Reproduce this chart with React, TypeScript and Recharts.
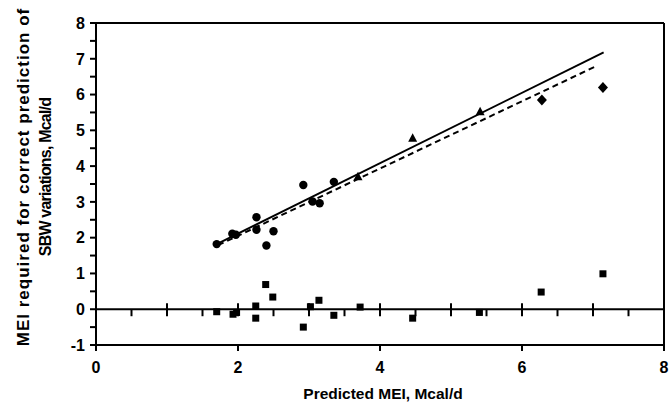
import React from 'react';
import { ScatterChart, Scatter, XAxis, YAxis, ReferenceLine, ReferenceDot, Label } from 'recharts';

const circleData = [
  { x: 1.70, y: 1.82 }, { x: 1.92, y: 2.11 }, { x: 1.97, y: 2.08 }, { x: 2.26, y: 2.57 },
  { x: 2.26, y: 2.22 }, { x: 2.40, y: 1.78 }, { x: 2.50, y: 2.18 }, { x: 2.92, y: 3.47 },
  { x: 3.05, y: 3.01 }, { x: 3.15, y: 2.96 }, { x: 3.35, y: 3.56 },
];
const triangleData = [{ x: 3.69, y: 3.70 }, { x: 4.46, y: 4.78 }, { x: 5.41, y: 5.52 }];
const diamondData = [{ x: 6.28, y: 5.85 }, { x: 7.14, y: 6.20 }];
const squareData = [
  { x: 1.70, y: -0.07 }, { x: 1.93, y: -0.14 }, { x: 1.98, y: -0.09 }, { x: 2.25, y: 0.09 },
  { x: 2.25, y: -0.25 }, { x: 2.39, y: 0.69 }, { x: 2.49, y: 0.34 }, { x: 2.92, y: -0.50 },
  { x: 3.02, y: 0.07 }, { x: 3.14, y: 0.25 }, { x: 3.35, y: -0.17 }, { x: 3.72, y: 0.06 },
  { x: 4.46, y: -0.25 }, { x: 5.40, y: -0.09 }, { x: 6.27, y: 0.48 }, { x: 7.14, y: 0.99 },
];
const solidFit = [{ x: 1.68, y: 1.80 }, { x: 7.15, y: 7.18 }];
const dashedFit = [{ x: 1.72, y: 1.79 }, { x: 7.03, y: 6.78 }];

const xTicks = [0, 2, 4, 6, 8];
const yTicks = [-1, -0.5, 0, 0.5, 1, 1.5, 2, 2.5, 3, 3.5, 4, 4.5, 5, 5.5, 6, 6.5, 7, 7.5, 8];
const zeroMajorTicks = [1, 2, 3, 4, 5, 6, 7];
const zeroMinorTicks = [0.5, 1.5, 2.5, 3.5, 4.5, 5.5, 6.5, 7.5];

const xTitle = 'Predicted MEI, Mcal/d';
const yTitle1 = 'MEI required for correct prediction of';
const yTitle2 = 'SBW variations, Mcal/d';

const FONT = '"Liberation Sans", Arial, sans-serif';

const CircleShape = (p: any) => <circle cx={p.cx} cy={p.cy} r={4.2} fill="#000" />;
const SquareShape = (p: any) => (
  <rect x={p.cx - 3.5} y={p.cy - 3.5} width={7} height={7} fill="#000" />
);
const TriangleShape = (p: any) => (
  <polygon
    points={`${p.cx},${p.cy - 5} ${p.cx + 4.5},${p.cy + 3.5} ${p.cx - 4.5},${p.cy + 3.5}`}
    fill="#000"
  />
);
const DiamondShape = (p: any) => (
  <polygon
    points={`${p.cx},${p.cy - 5.5} ${p.cx + 5},${p.cy} ${p.cx},${p.cy + 5.5} ${p.cx - 5},${p.cy}`}
    fill="#000"
  />
);

const MajorTick = (p: any) => (
  <line x1={p.cx} x2={p.cx} y1={p.cy - 6} y2={p.cy + 7} stroke="#000" strokeWidth={2} />
);
const MinorTick = (p: any) => (
  <line x1={p.cx} x2={p.cx} y1={p.cy} y2={p.cy + 7} stroke="#000" strokeWidth={2} />
);

const XTick = (p: any) => (
  <text
    x={p.x}
    y={p.y}
    dy="0.71em"
    textAnchor="middle"
    fontFamily={FONT}
    fontSize={16}
    fontWeight={700}
    fill="#000"
  >
    {p.payload.value}
  </text>
);

const YTick = (p: any) => {
  const v = p.payload.value;
  if (!Number.isInteger(v)) return <g />;
  return (
    <text
      x={p.x}
      y={p.y}
      dy="0.36em"
      textAnchor="end"
      fontFamily={FONT}
      fontSize={16}
      fontWeight={700}
      fill="#000"
    >
      {v}
    </text>
  );
};

const XTitle = (props: any) => {
  const vb = props.viewBox || { x: 96, y: 345, width: 568, height: 67 };
  return (
    <text
      x={vb.x + vb.width / 2 + 3}
      y={vb.y + vb.height - 13}
      textAnchor="middle"
      fontFamily={FONT}
      fontSize={15.5}
      fontWeight={700}
      fill="#000"
    >
      {xTitle}
    </text>
  );
};

const YTitle = (props: any) => {
  const vb = props.viewBox || { x: 0, y: 23, width: 96, height: 322 };
  const cy = vb.y + vb.height / 2 - 7;
  return (
    <g fontFamily={FONT} fontWeight={700} fill="#000">
      <text
        transform={`translate(${vb.x + 29},${cy}) rotate(-90)`}
        textAnchor="middle"
        fontSize={17}
        letterSpacing={1}
      >
        {yTitle1}
      </text>
      <text
        transform={`translate(${vb.x + 51},${cy}) rotate(-90)`}
        textAnchor="middle"
        fontSize={16}
        letterSpacing={-0.8}
      >
        {yTitle2}
      </text>
    </g>
  );
};

export default function App() {
  return (
    <div style={{ position: 'absolute', left: 0, top: 0, background: '#fff' }}>
      <ScatterChart
        width={669}
        height={412}
        margin={{ top: 23, right: 5, bottom: 0, left: 0 }}
        style={{ fontFamily: FONT }}
      >
        <XAxis
          type="number"
          dataKey="x"
          domain={[0, 8]}
          ticks={xTicks}
          interval={0}
          height={67}
          axisLine={{ stroke: '#000', strokeWidth: 2 }}
          tickLine={{ stroke: '#000', strokeWidth: 2 }}
          tickSize={6}
          tickMargin={11}
          tick={<XTick />}
        >
          <Label content={<XTitle />} />
        </XAxis>
        <YAxis
          type="number"
          dataKey="y"
          domain={[-1, 8]}
          ticks={yTicks}
          interval={0}
          width={96}
          axisLine={{ stroke: '#000', strokeWidth: 2 }}
          tickLine={{ stroke: '#000', strokeWidth: 2 }}
          tickSize={6}
          tickMargin={5}
          tick={<YTick />}
        >
          <Label content={<YTitle />} />
        </YAxis>

        <ReferenceLine y={8} stroke="#000" strokeWidth={2} ifOverflow="extendDomain" />
        <ReferenceLine x={8} stroke="#000" strokeWidth={2} ifOverflow="extendDomain" />
        <ReferenceLine y={0} stroke="#000" strokeWidth={2} />
        {zeroMajorTicks.map((v) => (
          <ReferenceDot key={'M' + v} x={v} y={0} r={1} shape={<MajorTick />} />
        ))}
        {zeroMinorTicks.map((v) => (
          <ReferenceDot key={'m' + v} x={v} y={0} r={1} shape={<MinorTick />} />
        ))}

        <ReferenceLine segment={solidFit} stroke="#000" strokeWidth={2} />
        <ReferenceLine segment={dashedFit} stroke="#000" strokeWidth={2} strokeDasharray="6 4" />

        <Scatter data={circleData} shape={<CircleShape />} isAnimationActive={false} />
        <Scatter data={triangleData} shape={<TriangleShape />} isAnimationActive={false} />
        <Scatter data={diamondData} shape={<DiamondShape />} isAnimationActive={false} />
        <Scatter data={squareData} shape={<SquareShape />} isAnimationActive={false} />
      </ScatterChart>
    </div>
  );
}
